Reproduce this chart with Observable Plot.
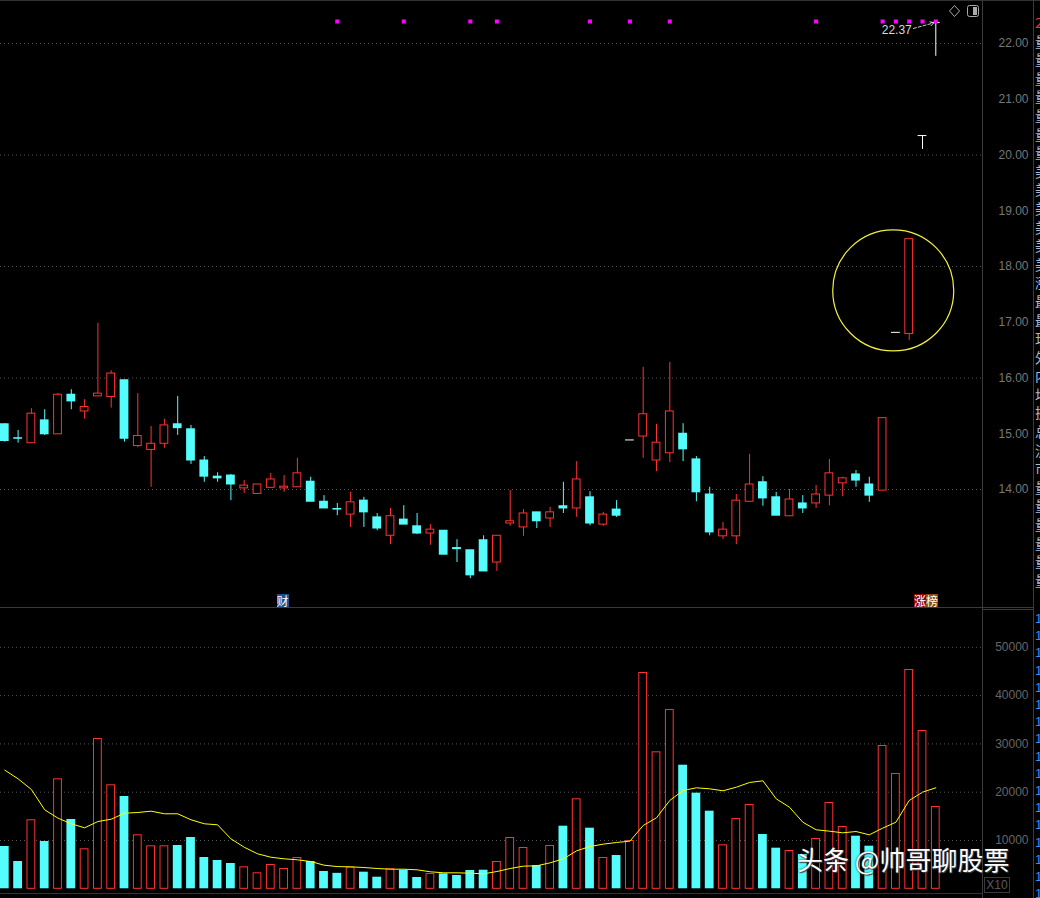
<!DOCTYPE html>
<html><head><meta charset="utf-8">
<script src="https://cdn.jsdelivr.net/npm/d3@7"></script>
<script src="https://cdn.jsdelivr.net/npm/@observablehq/plot@0.6"></script>
<style>
html,body{margin:0;padding:0;background:#000;}
#wrap{position:relative;width:1040px;height:898px;background:#000;overflow:hidden;font-family:"Liberation Sans",Arial,sans-serif;}
#wrap svg{display:block}
#price{position:absolute;left:0;top:0}
#vol{position:absolute;left:0;top:607px}
.ln{position:absolute;background:#3a3a3a}
.tag{position:absolute;top:594px;height:13px;font:12px/13px "Noto Sans CJK SC",sans-serif;color:#fff;display:flex}
.tag span{display:block;padding:0 0px;width:12px;text-align:center}
#wm{position:absolute;left:797px;top:846px;font:26px/26px "Noto Sans CJK SC",sans-serif;color:#fff;white-space:nowrap;text-shadow:0 0 2px #222,1px 1px 1px #444;}
#strip{position:absolute;left:1035px;top:0;width:5px;height:898px;overflow:hidden}
#x10{position:absolute;left:984px;top:877px;width:24px;height:14px;border:1px solid #3a3a3a;color:#5a5a5a;font:12px/14px "Liberation Sans",sans-serif;text-align:center}
</style></head>
<body><div id="wrap"></div>
<script>
// ---- data ----
const opens  = [15.17,14.92,14.83,15.24,14.99,15.70,15.40,15.67,15.66,15.96,14.78,14.71,14.82,15.17,15.08,14.52,14.23,14.25,14.02,13.92,14.03,14.02,14.04,14.14,13.78,13.65,13.55,13.80,13.50,13.17,13.46,13.34,13.21,13.26,12.95,12.91,13.09,12.69,13.39,13.32,13.59,13.48,13.70,13.66,13.86,13.37,13.64,14.88,14.95,14.52,14.65,15.00,14.54,13.91,13.16,13.16,13.78,14.13,13.86,13.52,13.75,13.75,13.89,14.11,14.27,14.09,13.98,16.81,16.79,20.34,22.37];
const highs  = [15.18,15.06,15.45,15.43,15.72,15.79,15.61,16.98,16.13,15.96,15.72,15.13,15.26,15.67,15.15,14.59,14.30,14.27,14.16,14.09,14.29,14.25,14.56,14.22,13.89,13.75,13.95,13.86,13.57,13.66,13.71,13.57,13.37,13.26,13.10,12.91,13.17,13.17,13.98,13.64,13.59,13.68,14.13,14.50,13.96,13.59,13.80,14.88,16.19,15.17,16.28,15.18,14.59,14.04,13.41,13.91,14.63,14.23,13.95,14.00,13.89,14.07,14.54,14.22,14.34,14.22,15.28,16.81,18.49,20.34,22.37];
const lows   = [14.85,14.83,14.83,14.97,14.99,15.43,15.26,15.67,15.46,14.85,14.75,14.04,14.74,14.97,14.45,14.13,14.13,13.80,13.93,13.92,14.03,13.95,14.04,13.78,13.66,13.53,13.32,13.32,13.26,13.01,13.37,13.19,13.00,12.83,12.69,12.40,12.53,12.53,13.34,13.16,13.30,13.32,13.57,13.50,13.35,13.34,13.50,14.88,14.56,14.32,14.48,14.50,13.78,13.17,13.10,13.01,13.77,13.70,13.53,13.52,13.57,13.66,13.71,13.87,14.04,13.77,13.98,16.81,16.67,20.10,21.77];
const closes = [14.87,14.91,15.36,14.99,15.70,15.58,15.48,15.72,16.08,14.91,14.96,14.82,15.15,15.10,14.52,14.23,14.20,14.09,14.07,14.09,14.18,14.05,14.29,13.78,13.66,13.64,13.77,13.59,13.30,13.52,13.37,13.21,13.28,12.83,12.93,12.46,12.53,13.17,13.43,13.57,13.43,13.59,13.66,14.18,13.39,13.55,13.53,14.88,15.35,14.84,15.40,14.72,13.95,13.23,13.28,13.80,14.09,13.84,13.53,13.82,13.66,13.91,14.29,14.20,14.16,13.89,15.28,16.81,18.49,20.34,22.37];
const volumes = [8760,5650,14290,9790,22770,14350,8280,31120,21530,19110,11180,8900,8900,8960,10620,6480,5860,5240,4550,3310,5030,4200,6480,5650,3580,3200,4470,3440,2400,4140,3850,2340,3170,3100,2750,3790,3850,5650,10620,8550,4820,8960,12960,18630,12550,6480,6890,10000,44780,28360,37120,25590,19800,16070,9100,14550,17450,11240,8410,7930,7100,10410,17870,12900,10890,8820,29670,23870,45400,32770,17040];
const volMA = [24560,22770,20560,16350,14620,13460,12630,13930,14410,15650,15800,16070,15530,15530,14290,13460,13250,10350,8610,7250,6540,6210,6000,5650,4890,4600,4550,4410,4200,4060,4060,3930,3520,3310,3310,3230,3100,3580,4200,4690,4760,5380,6210,7870,8760,9240,9590,9860,13110,14700,18300,20350,20910,20700,20290,21040,22010,22360,18630,16890,13790,12220,11930,11590,11860,11180,12550,13790,18280,20000,20910];
const signalIdx = [25,30,35,37,44,47,50,61,66,67,68,69,70];
const priceTicks = [14,15,16,17,18,19,20,21,22];
const priceGrid = [14,16,18,20,22];
const volTicks = [10000,20000,30000,40000,50000];
const caiIdx = 21, zbIdx = 69;

// ---- styles ----
const RED = "#ff3232", CYAN = "#54fcfc", WHITE = "#ffffff";
const candles = d3.range(opens.length).map(i => ({i, o: opens[i], h: highs[i], l: lows[i], c: closes[i], v: volumes[i], ma: volMA[i]}));
const colorOf = d => d.c > d.o ? RED : d.c < d.o ? CYAN : WHITE;
const HW = 0.33;
const xOpt = {domain: [0, opens.length - 1], range: [4.3, 935.3], axis: null};
const baseStyle = {background: "transparent", color: "#777", overflow: "visible"};
const lastC = candles[candles.length - 1];

const price = Plot.plot({
  width: 1040, height: 607, marginLeft: 0, marginRight: 57, marginTop: 0, marginBottom: 0,
  style: baseStyle,
  x: xOpt,
  y: {domain: [14, 22], range: [489, 43], axis: null},
  marks: [
    Plot.ruleY(priceGrid, {stroke: "#555", strokeDasharray: "1,3"}),
    Plot.ruleX(candles, {x: "i", y1: "l", y2: "h", stroke: colorOf}),
    Plot.rect(candles.filter(d => d.c <= d.o), {x1: d => d.i - HW, x2: d => d.i + HW, y1: "o", y2: "c", fill: colorOf, insetTop: -0.5, insetBottom: -0.5}),
    Plot.rect(candles.filter(d => d.c > d.o), {x1: d => d.i - HW, x2: d => d.i + HW, y1: "o", y2: "c", fill: "#000", stroke: RED, insetLeft: 0.5, insetRight: 0.5}),
    Plot.text(priceTicks, {y: d => d, frameAnchor: "right", dx: 45, textAnchor: "end", text: d => d.toFixed(2), fill: "#777", fontSize: 12, fontFamily: "Liberation Sans"}),
    Plot.dot(signalIdx, {x: d => d, frameAnchor: "top", dy: 21, symbol: "square", r: 2.3, fill: "#ff00ff", stroke: null}),
    Plot.text([lastC], {x: "i", y: "h", text: d => d.h.toFixed(2), dx: -24, dy: 7, textAnchor: "end", fill: "#d8d8d8", fontSize: 12, fontFamily: "Liberation Sans"}),
    Plot.arrow([lastC], {x1: d => d.i - 1.68, y1: d => d.h - 0.1, x2: d => d.i - 0.15, y2: "h", stroke: "#cccccc", strokeWidth: 1, headLength: 6, strokeDasharray: "3,2"}),
    Plot.dot([{x: 66.8, y: 17.57}], {x: "x", y: "y", r: 60.5, stroke: "#f2f040", fill: "none", strokeWidth: 1.2})
  ]
});
price.id = "price";

const vol = Plot.plot({
  width: 1040, height: 291, marginLeft: 0, marginRight: 57, marginTop: 0, marginBottom: 0,
  style: baseStyle,
  x: xOpt,
  y: {domain: [0, 50000], range: [281.3, 39.8], axis: null},
  marks: [
    Plot.ruleY(volTicks, {stroke: "#555", strokeDasharray: "1,3"}),
    Plot.rect(candles.filter(d => d.c < d.o), {x1: d => d.i - HW, x2: d => d.i + HW, y1: 0, y2: "v", fill: CYAN}),
    Plot.rect(candles.filter(d => d.c >= d.o), {x1: d => d.i - HW, x2: d => d.i + HW, y1: 0, y2: "v", fill: "#000", stroke: RED, insetLeft: 0.5, insetRight: 0.5, insetTop: 0.5}),
    Plot.line(candles, {x: "i", y: "ma", stroke: "#ffff00", strokeWidth: 1}),
    Plot.text(volTicks, {y: d => d, frameAnchor: "right", dx: 45, textAnchor: "end", text: d => String(d), fill: "#666", fontSize: 12, fontFamily: "Liberation Sans"})
  ]
});
vol.id = "vol";

const wrap = document.getElementById("wrap");
wrap.appendChild(price);
wrap.appendChild(vol);

function ln(l, t, w, h, c) {
  const d = document.createElement("div");
  d.className = "ln";
  d.style.cssText = `left:${l}px;top:${t}px;width:${w}px;height:${h}px;` + (c ? `background:${c}` : "");
  wrap.appendChild(d);
}
ln(0, 0, 1040, 1, "#333");
ln(982, 0, 1, 898);
ln(1033, 0, 1, 898);
ln(0, 607, 1033, 1);
ln(983, 609, 50, 1);
ln(0, 893, 983, 1, "#333");

// event tags
const xs = price.scale("x");
function tag(chars, i, offset) {
  const t = document.createElement("div");
  t.className = "tag";
  t.style.left = (xs.apply(i) + offset) + "px";
  chars.forEach(([ch, bg]) => {
    const s = document.createElement("span");
    s.textContent = ch; s.style.background = bg;
    t.appendChild(s);
  });
  wrap.appendChild(t);
}
tag([["财", "#1d4f8f"]], caiIdx, -7);
tag([["涨", "#8a0a0a"], ["榜", "#8a4a12"]], zbIdx, -8);

// top-right icons
const icons = document.createElementNS("http://www.w3.org/2000/svg", "svg");
icons.setAttribute("width", 40); icons.setAttribute("height", 20);
icons.style.cssText = "position:absolute;left:945px;top:2px";
icons.innerHTML = '<path d="M9.5,3.5 L14.5,9 L9.5,14.5 L4.5,9 Z" fill="none" stroke="#aaa"/>' +
  '<rect x="22.5" y="3.5" width="11" height="11" rx="2" fill="none" stroke="#aaa"/><rect x="28" y="5" width="4" height="8" fill="#aaa"/>';
wrap.appendChild(icons);

// right side strip (cut-off panel text)
const strip = document.createElement("div");
strip.id = "strip";
let html = '<div style="position:absolute;top:13px;font:14px/18.6px \'Noto Sans CJK SC\';color:#a8bcd8;white-space:pre">';
const chs = "2量量量量量量量美美美美美美涨最最现外内均换总流市量量量量量量量量量";
for (let k = 0; k < 31; k++) html += `<div style="color:${k === 0 ? '#ff3030' : '#a8bcd8'}">${chs[k]}</div>`;
html += '</div><div style="position:absolute;top:610px;font:13px/17.2px \'Liberation Sans\';color:#2f8fff">';
for (let k = 0; k < 17; k++) html += '<div>1</div>';
html += '</div>';
strip.innerHTML = html;
wrap.appendChild(strip);

const x10 = document.createElement("div");
x10.id = "x10"; x10.textContent = "X10";
wrap.appendChild(x10);

const wm = document.createElement("div");
wm.id = "wm"; wm.textContent = "头条 @帅哥聊股票";
wrap.appendChild(wm);
</script>
</body></html>
